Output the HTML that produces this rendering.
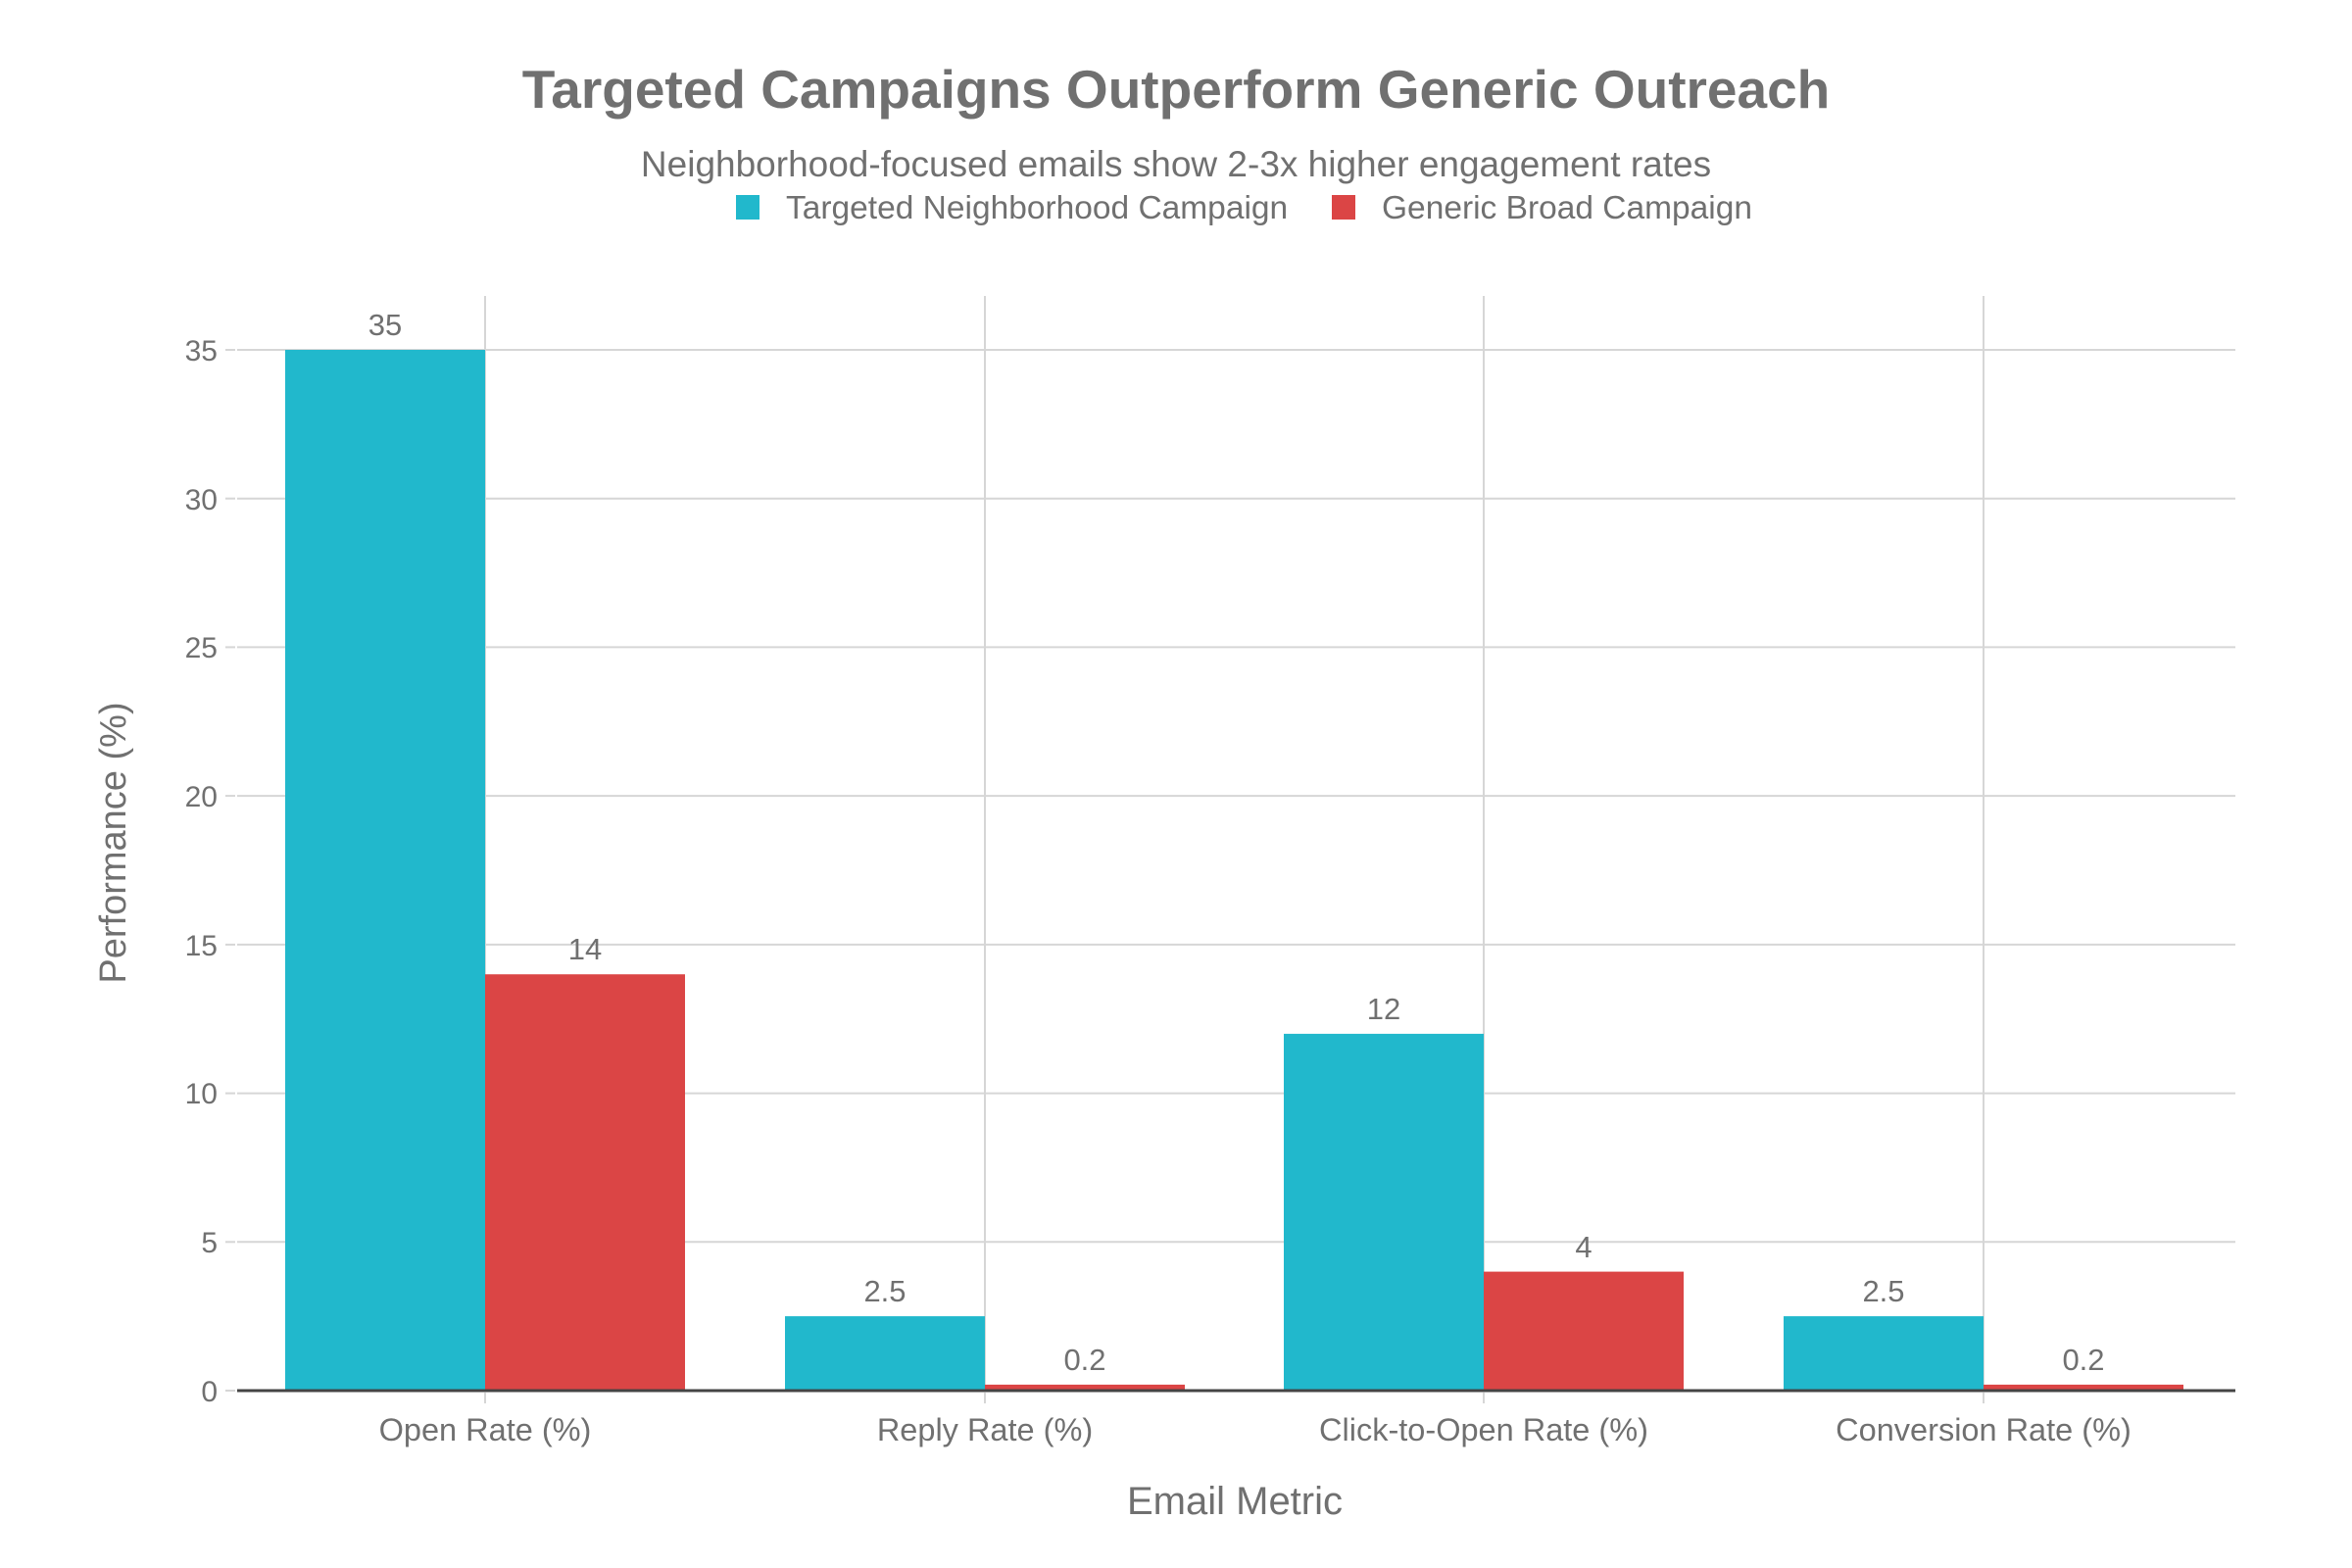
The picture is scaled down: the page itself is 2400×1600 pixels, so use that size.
<!DOCTYPE html>
<html><head><meta charset="utf-8"><style>
html,body{margin:0;padding:0;background:#fff;}
svg{display:block;font-family:"Liberation Sans",sans-serif;}
</style></head><body>
<svg width="2400" height="1600" viewBox="0 0 2400 1600" xmlns="http://www.w3.org/2000/svg">
<rect width="2400" height="1600" fill="#fff"/>
<text x="1200" y="110" text-anchor="middle" font-size="55" font-weight="bold" fill="#707070">Targeted Campaigns Outperform Generic Outreach</text>
<text x="1200" y="180" text-anchor="middle" font-size="37" fill="#707070">Neighborhood-focused emails show 2-3x higher engagement rates</text>
<rect x="751" y="199" width="24" height="25" fill="#21b8cc"/>
<text x="802" y="223" font-size="33.5" fill="#707070">Targeted Neighborhood Campaign</text>
<rect x="1359" y="199" width="24" height="25" fill="#db4545"/>
<text x="1410" y="223" font-size="33.5" fill="#707070">Generic Broad Campaign</text>
<g stroke="#d6d6d6" stroke-width="2">
<line x1="242" x2="2281" y1="1267.3" y2="1267.3"/>
<line x1="242" x2="2281" y1="1115.6" y2="1115.6"/>
<line x1="242" x2="2281" y1="963.9" y2="963.9"/>
<line x1="242" x2="2281" y1="812.1" y2="812.1"/>
<line x1="242" x2="2281" y1="660.4" y2="660.4"/>
<line x1="242" x2="2281" y1="508.7" y2="508.7"/>
<line x1="242" x2="2281" y1="357" y2="357"/>
<line x1="495" x2="495" y1="302" y2="1419"/>
<line x1="1005" x2="1005" y1="302" y2="1419"/>
<line x1="1514" x2="1514" y1="302" y2="1419"/>
<line x1="2024" x2="2024" y1="302" y2="1419"/>
<line x1="495" x2="495" y1="1421" y2="1432"/>
<line x1="1005" x2="1005" y1="1421" y2="1432"/>
<line x1="1514" x2="1514" y1="1421" y2="1432"/>
<line x1="2024" x2="2024" y1="1421" y2="1432"/>
<line x1="230" x2="240" y1="1419" y2="1419"/>
<line x1="230" x2="240" y1="1267.3" y2="1267.3"/>
<line x1="230" x2="240" y1="1115.6" y2="1115.6"/>
<line x1="230" x2="240" y1="963.9" y2="963.9"/>
<line x1="230" x2="240" y1="812.1" y2="812.1"/>
<line x1="230" x2="240" y1="660.4" y2="660.4"/>
<line x1="230" x2="240" y1="508.7" y2="508.7"/>
<line x1="230" x2="240" y1="357" y2="357"/>
</g>
<g>
<rect x="291" y="357" width="204" height="1062" fill="#21b8cc"/>
<rect x="495" y="994.2" width="204" height="424.8" fill="#db4545"/>
<rect x="801" y="1343.1" width="204" height="75.9" fill="#21b8cc"/>
<rect x="1005" y="1412.9" width="204" height="6.1" fill="#db4545"/>
<rect x="1310" y="1054.9" width="204" height="364.1" fill="#21b8cc"/>
<rect x="1514" y="1297.6" width="204" height="121.4" fill="#db4545"/>
<rect x="1820" y="1343.1" width="204" height="75.9" fill="#21b8cc"/>
<rect x="2024" y="1412.9" width="204" height="6.1" fill="#db4545"/>
</g>
<line x1="242" x2="2281" y1="1419" y2="1419" stroke="#444" stroke-width="3"/>
<g font-size="31" fill="#707070" text-anchor="middle">
<text x="393" y="342">35</text>
<text x="597" y="979">14</text>
<text x="903" y="1328">2.5</text>
<text x="1107" y="1398">0.2</text>
<text x="1412" y="1040">12</text>
<text x="1616" y="1283">4</text>
<text x="1922" y="1328">2.5</text>
<text x="2126" y="1398">0.2</text>
</g>
<g font-size="30" fill="#707070" text-anchor="end">
<text x="222" y="1430">0</text>
<text x="222" y="1278">5</text>
<text x="222" y="1126">10</text>
<text x="222" y="975">15</text>
<text x="222" y="823">20</text>
<text x="222" y="671">25</text>
<text x="222" y="520">30</text>
<text x="222" y="368">35</text>
</g>
<g font-size="32.5" fill="#707070" text-anchor="middle">
<text x="495" y="1470">Open Rate (%)</text>
<text x="1005" y="1470">Reply Rate (%)</text>
<text x="1514" y="1470">Click-to-Open Rate (%)</text>
<text x="2024" y="1470">Conversion Rate (%)</text>
</g>
<text x="1260" y="1545" text-anchor="middle" font-size="40" fill="#707070">Email Metric</text>
<text transform="translate(128,860) rotate(-90)" text-anchor="middle" font-size="38" fill="#707070">Performance (%)</text>
</svg>
</body></html>
